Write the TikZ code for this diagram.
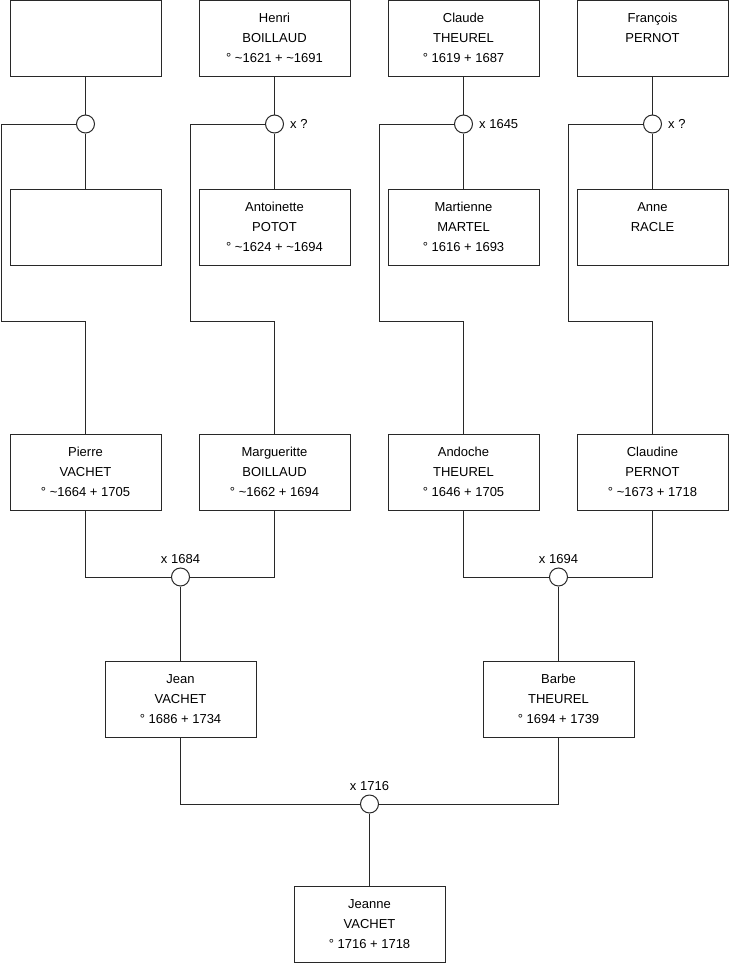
\documentclass[tikz,border=0pt]{standalone}
\usepackage{fontspec}
\setmainfont{Liberation Sans}
\usetikzlibrary{positioning}
\definecolor{linegray}{RGB}{40,40,40}

\begin{document}
\begin{tikzpicture}[x=1pt, y=-1pt,
  person/.style={draw=linegray, line width=1pt, minimum width=151pt, minimum height=76pt, inner sep=0pt, align=center, font=\fontsize{13}{20}\selectfont},
  wed/.style={draw=linegray, line width=1pt, circle, minimum size=18pt, inner sep=0pt, fill=white},
  wedlabel/.style={font=\fontsize{13}{15}\selectfont, inner sep=1pt},
  link/.style={draw=linegray, line width=1pt}]
  \useasboundingbox (0,0) rectangle (740,975);

  % grandparents' parents
  \node[person] (unkA) at (85.5,38) {};
  \node[person] (henri) at (274.5,38) {Henri\\BOILLAUD\\° \textasciitilde1621 + \textasciitilde1691};
  \node[person] (claude) at (463.5,38) {Claude\\THEUREL\\° 1619 + 1687};
  \node[person] (francois) at (652.5,38) {François\\PERNOT\\\mbox{}};

  \node[person] (unkB) at (85.5,227) {};
  \node[person] (antoinette) at (274.5,227) {Antoinette\\POTOT\\° \textasciitilde1624 + \textasciitilde1694};
  \node[person] (martienne) at (463.5,227) {Martienne\\MARTEL\\° 1616 + 1693};
  \node[person] (anne) at (652.5,227) {Anne\\RACLE\\\mbox{}};

  \node[wed] (mA) at (85.5,124) {};
  \node[wed] (mB) at (274.5,124) {};
  \node[wed] (mC) at (463.5,124) {};
  \node[wed] (mD) at (652.5,124) {};
  \node[wedlabel, right=5pt of mB] {x ?};
  \node[wedlabel, right=5pt of mC] {x 1645};
  \node[wedlabel, right=5pt of mD] {x ?};

  % grandparents
  \node[person] (pierre) at (85.5,472) {Pierre\\VACHET\\° \textasciitilde1664 + 1705};
  \node[person] (marg) at (274.5,472) {Margueritte\\BOILLAUD\\° \textasciitilde1662 + 1694};
  \node[person] (andoche) at (463.5,472) {Andoche\\THEUREL\\° 1646 + 1705};
  \node[person] (claudine) at (652.5,472) {Claudine\\PERNOT\\° \textasciitilde1673 + 1718};

  \coordinate (cA) at (1,321);
  \coordinate (cB) at (190,321);
  \coordinate (cC) at (379,321);
  \coordinate (cD) at (568,321);

  \node[wed] (mE) at (180.5,577) {};
  \node[wed] (mF) at (558.5,577) {};
  \node[wedlabel, above=3pt of mE] {x 1684};
  \node[wedlabel, above=3pt of mF] {x 1694};

  % parents
  \node[person] (jean) at (180.5,699) {Jean\\VACHET\\° 1686 + 1734};
  \node[person] (barbe) at (558.5,699) {Barbe\\THEUREL\\° 1694 + 1739};

  \node[wed] (mG) at (369.5,804) {};
  \node[wedlabel, above=3pt of mG] {x 1716};

  \node[person] (jeanne) at (369.5,924) {Jeanne\\VACHET\\° 1716 + 1718};

  % couples
  \foreach \up/\m/\down/\c/\kid in {unkA/mA/unkB/cA/pierre, henri/mB/antoinette/cB/marg, claude/mC/martienne/cC/andoche, francois/mD/anne/cD/claudine}{
    \draw[link] (\up) -- (\m);
    \draw[link] (\m) -- (\down);
    \draw[link] (\m.west) -| (\c) -| (\kid.north);
  }
  \draw[link] (pierre.south) |- (mE.west);
  \draw[link] (marg.south) |- (mE.east);
  \draw[link] (mE) -- (jean);
  \draw[link] (andoche.south) |- (mF.west);
  \draw[link] (claudine.south) |- (mF.east);
  \draw[link] (mF) -- (barbe);
  \draw[link] (jean.south) |- (mG.west);
  \draw[link] (barbe.south) |- (mG.east);
  \draw[link] (mG) -- (jeanne);
\end{tikzpicture}
\end{document}
